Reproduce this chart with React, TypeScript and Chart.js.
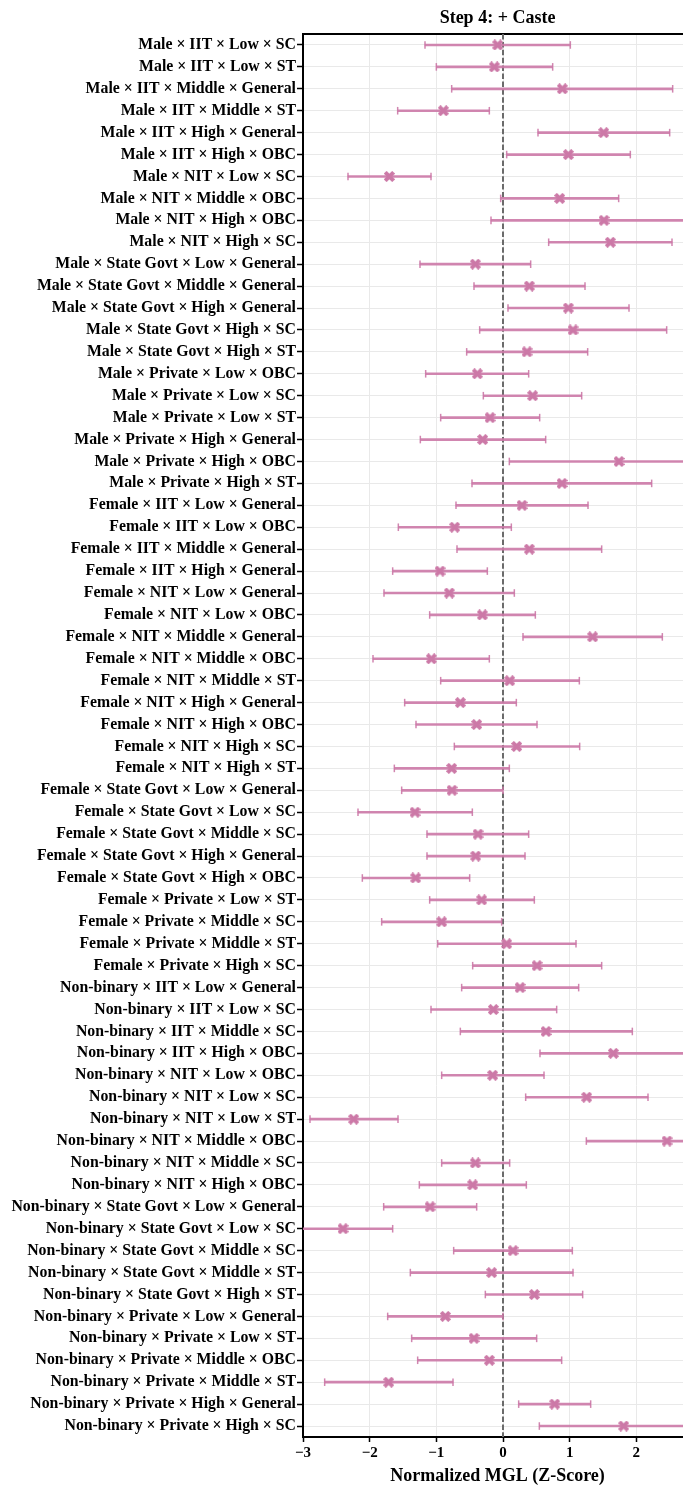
import React, { useEffect, useRef } from "react";
import { Chart, registerables } from "chart.js";

Chart.register(...registerables);

const categories = [
  "Male × IIT × Low × SC",
  "Male × IIT × Low × ST",
  "Male × IIT × Middle × General",
  "Male × IIT × Middle × ST",
  "Male × IIT × High × General",
  "Male × IIT × High × OBC",
  "Male × NIT × Low × SC",
  "Male × NIT × Middle × OBC",
  "Male × NIT × High × OBC",
  "Male × NIT × High × SC",
  "Male × State Govt × Low × General",
  "Male × State Govt × Middle × General",
  "Male × State Govt × High × General",
  "Male × State Govt × High × SC",
  "Male × State Govt × High × ST",
  "Male × Private × Low × OBC",
  "Male × Private × Low × SC",
  "Male × Private × Low × ST",
  "Male × Private × High × General",
  "Male × Private × High × OBC",
  "Male × Private × High × ST",
  "Female × IIT × Low × General",
  "Female × IIT × Low × OBC",
  "Female × IIT × Middle × General",
  "Female × IIT × High × General",
  "Female × NIT × Low × General",
  "Female × NIT × Low × OBC",
  "Female × NIT × Middle × General",
  "Female × NIT × Middle × OBC",
  "Female × NIT × Middle × ST",
  "Female × NIT × High × General",
  "Female × NIT × High × OBC",
  "Female × NIT × High × SC",
  "Female × NIT × High × ST",
  "Female × State Govt × Low × General",
  "Female × State Govt × Low × SC",
  "Female × State Govt × Middle × SC",
  "Female × State Govt × High × General",
  "Female × State Govt × High × OBC",
  "Female × Private × Low × ST",
  "Female × Private × Middle × SC",
  "Female × Private × Middle × ST",
  "Female × Private × High × SC",
  "Non-binary × IIT × Low × General",
  "Non-binary × IIT × Low × SC",
  "Non-binary × IIT × Middle × SC",
  "Non-binary × IIT × High × OBC",
  "Non-binary × NIT × Low × OBC",
  "Non-binary × NIT × Low × SC",
  "Non-binary × NIT × Low × ST",
  "Non-binary × NIT × Middle × OBC",
  "Non-binary × NIT × Middle × SC",
  "Non-binary × NIT × High × OBC",
  "Non-binary × State Govt × Low × General",
  "Non-binary × State Govt × Low × SC",
  "Non-binary × State Govt × Middle × SC",
  "Non-binary × State Govt × Middle × ST",
  "Non-binary × State Govt × High × ST",
  "Non-binary × Private × Low × General",
  "Non-binary × Private × Low × ST",
  "Non-binary × Private × Middle × OBC",
  "Non-binary × Private × Middle × ST",
  "Non-binary × Private × High × General",
  "Non-binary × Private × High × SC",
];

const estimates = [
  -0.08, -0.13, 0.89, -0.895, 1.51, 0.98, -1.705, 0.85, 1.515, 1.61,
  -0.415, 0.395, 0.98, 1.05, 0.36, -0.385, 0.445, -0.195, -0.305, 1.74,
  0.885, 0.285, -0.725, 0.395, -0.945, -0.805, -0.31, 1.345, -1.075, 0.1,
  -0.64, -0.395, 0.205, -0.77, -0.765, -1.32, -0.375, -0.41, -1.31, -0.32,
  -0.92, 0.055, 0.51, 0.255, -0.145, 0.645, 1.655, -0.155, 1.255, -2.24,
  2.46, -0.415, -0.455, -1.095, -2.4, 0.15, -0.17, 0.47, -0.865, -0.435,
  -0.205, -1.715, 0.775, 1.81,
];

const lowerCI = [
  -1.17, -1.0, -0.77, -1.58, 0.525, 0.055, -2.325, -0.035, -0.18, 0.685,
  -1.245, -0.435, 0.075, -0.35, -0.545, -1.16, -0.295, -0.935, -1.24, 0.095,
  -0.465, -0.705, -1.57, -0.69, -1.655, -1.785, -1.1, 0.3, -1.95, -0.935,
  -1.475, -1.305, -0.73, -1.63, -1.52, -2.175, -1.14, -1.14, -2.11, -1.1,
  -1.82, -0.98, -0.455, -0.62, -1.08, -0.64, 0.555, -0.92, 0.34, -2.895,
  1.25, -0.92, -1.255, -1.79, -3.15, -0.74, -1.39, -0.265, -1.73, -1.37,
  -1.28, -2.675, 0.235, 0.545,
];

const upperCI = [
  1.01, 0.745, 2.545, -0.205, 2.5, 1.91, -1.08, 1.735, 3.21, 2.535,
  0.415, 1.23, 1.89, 2.455, 1.27, 0.385, 1.18, 0.55, 0.64, 3.385,
  2.23, 1.275, 0.125, 1.48, -0.235, 0.17, 0.485, 2.39, -0.205, 1.145,
  0.2, 0.51, 1.15, 0.095, 0.0, -0.46, 0.385, 0.33, -0.5, 0.47,
  -0.02, 1.095, 1.48, 1.135, 0.805, 1.94, 2.88, 0.615, 2.175, -1.575,
  3.67, 0.1, 0.35, -0.395, -1.655, 1.04, 1.05, 1.195, 0.0, 0.505,
  0.88, -0.75, 1.315, 3.075,
];

const xTickValues = [-3, -2, -1, 0, 1, 2];
const X_MIN = -3;
const X_MAX = 2.835;

const TITLE = "Step 4: + Caste";
const X_TITLE = "Normalized MGL (Z-Score)";

const FONT = "'Liberation Serif', 'DejaVu Serif', serif";
const PINK = "#CC79A7";
const PINK_BAR = "rgba(204,121,167,0.9)";

if (typeof document !== "undefined") {
  document.body.style.margin = "0";
  document.documentElement.style.overflow = "hidden";
}

function makeXMarker(): HTMLCanvasElement {
  const c = document.createElement("canvas");
  c.width = 11;
  c.height = 11;
  const g = c.getContext("2d")!;
  g.strokeStyle = PINK;
  g.lineWidth = 4;
  g.lineCap = "butt";
  g.beginPath();
  g.moveTo(1.3, 1.3);
  g.lineTo(9.7, 9.7);
  g.moveTo(9.7, 1.3);
  g.lineTo(1.3, 9.7);
  g.stroke();
  return c;
}

const zeroLinePlugin = {
  id: "zeroLine",
  beforeDatasetsDraw(chart: any) {
    const { ctx, chartArea, scales } = chart;
    const x = scales.x.getPixelForValue(0);
    ctx.save();
    ctx.strokeStyle = "#6b6b6b";
    ctx.lineWidth = 2;
    ctx.setLineDash([5.5, 2.4]);
    ctx.beginPath();
    ctx.moveTo(x, chartArea.top);
    ctx.lineTo(x, chartArea.bottom);
    ctx.stroke();
    ctx.restore();
  },
};

export default function App() {
  const ref = useRef<HTMLCanvasElement | null>(null);

  useEffect(() => {
    document.body.style.margin = "0";
    document.documentElement.style.overflow = "hidden";
    const canvas = ref.current;
    if (!canvas) return;
    const marker = makeXMarker();

    const chart = new Chart(canvas, {
      type: "bar",
      data: {
        labels: categories,
        datasets: [
          {
            type: "bar",
            data: categories.map((_, i) => [lowerCI[i], upperCI[i]]) as any,
            backgroundColor: PINK_BAR,
            borderWidth: 0,
            barThickness: 2,
            clip: 0,
          } as any,
          {
            type: "line",
            data: categories.map((c, i) => ({ x: lowerCI[i], y: c })) as any,
            showLine: false,
            pointStyle: "line",
            rotation: 90,
            pointRadius: 3.8,
            pointBorderColor: PINK_BAR,
            pointBorderWidth: 1.5,
            clip: 0,
          } as any,
          {
            type: "line",
            data: categories.map((c, i) => ({ x: upperCI[i], y: c })) as any,
            showLine: false,
            pointStyle: "line",
            rotation: 90,
            pointRadius: 3.8,
            pointBorderColor: PINK_BAR,
            pointBorderWidth: 1.5,
            clip: 0,
          } as any,
          {
            type: "line",
            data: categories.map((c, i) => ({ x: estimates[i], y: c })) as any,
            showLine: false,
            pointStyle: marker,
            pointRadius: 5,
            clip: 0,
          } as any,
        ],
      },
      options: {
        indexAxis: "y",
        responsive: false,
        animation: false,
        events: [],
        layout: { padding: 0, autoPadding: false },
        plugins: {
          legend: { display: false },
          tooltip: { enabled: false },
          title: {
            display: true,
            text: TITLE,
            fullSize: false,
            color: "#000",
            font: { family: FONT, size: 18, weight: "bold" },
            padding: { top: 0, bottom: 4.4 },
          },
        },
        scales: {
          x: {
            type: "linear",
            position: "bottom",
            min: X_MIN,
            max: X_MAX,
            afterBuildTicks: (s: any) => {
              s.ticks = xTickValues.map((v) => ({ value: v }));
            },
            afterFit: (s: any) => {
              s.height = 51;
              s.paddingRight = 0;
            },
            grid: {
              color: "#e9e9e9",
              lineWidth: 1,
              tickColor: "#000",
              tickLength: 5,
              tickWidth: 1.5,
            },
            border: { color: "#000", width: 2 },
            ticks: {
              color: "#000",
              padding: 2,
              font: { family: FONT, size: 15, weight: "bold" },
              callback: (v: any) => (v < 0 ? "\u2212" + Math.abs(v) : String(v)),
            },
            title: {
              display: true,
              text: X_TITLE,
              color: "#000",
              font: { family: FONT, size: 18, weight: "bold" },
              padding: { top: 0, bottom: 1 },
            },
          },
          x2: {
            type: "linear",
            position: "top",
            min: X_MIN,
            max: X_MAX,
            grid: { display: false, drawTicks: false },
            ticks: { display: false },
            border: { display: true, color: "#000", width: 2 },
            afterFit: (s: any) => {
              s.height = 0;
              s.paddingRight = 0;
              s.paddingLeft = 0;
            },
          },
          y: {
            type: "category",
            labels: categories,
            offset: true,
            afterFit: (s: any) => {
              s.width = 295;
            },
            grid: {
              offset: false,
              color: "#e9e9e9",
              lineWidth: 1,
              tickColor: "#000",
              tickLength: 6,
              tickWidth: 1.5,
            },
            border: { color: "#000", width: 2 },
            ticks: {
              color: "#000",
              padding: 1,
              autoSkip: false,
              font: { family: FONT, size: 15.8, weight: "bold" },
            },
          },
        },
      } as any,
      plugins: [zeroLinePlugin],
    });

    return () => chart.destroy();
  }, []);

  return (
    <div
      style={{
        width: 683,
        height: 1488,
        paddingLeft: 8,
        paddingTop: 8,
        boxSizing: "border-box",
        overflow: "hidden",
        background: "#fff",
      }}
    >
      <canvas ref={ref} width={684} height={1480} style={{ display: "block" }} />
    </div>
  );
}
